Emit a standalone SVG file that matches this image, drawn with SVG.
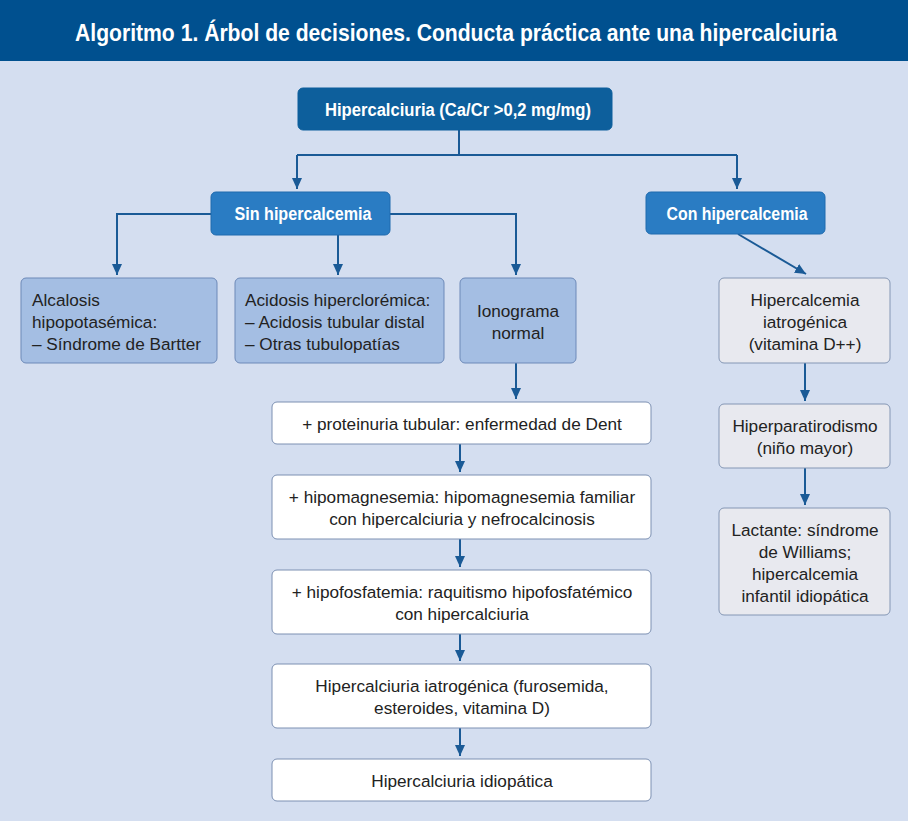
<svg xmlns="http://www.w3.org/2000/svg" width="908" height="821" viewBox="0 0 908 821">
<defs>
<marker id="ah" markerWidth="10" markerHeight="12" refX="11" refY="5" orient="auto" markerUnits="userSpaceOnUse">
<path d="M0,0 L11,5 L0,10 Z" fill="#1A5A96"/>
</marker>
<style>
.t{font-family:"Liberation Sans",Arial,sans-serif;font-size:17.2px;fill:#222}
.c{text-anchor:middle}
.b{font-family:"Liberation Sans",Arial,sans-serif;font-weight:bold;fill:#fff;text-anchor:middle;font-size:18px}
.ti{font-size:20px}
.dk{fill:#0D5F9C;stroke:#0D5F9C}
.md{fill:#2A7CC3;stroke:#1F6AAE}
.lb{fill:#A4BEE3;stroke:#6C89B8;stroke-width:1}
.wh{fill:#fff;stroke:#7C90B2;stroke-width:1}
.gr{fill:#E8E9EF;stroke:#8496B4;stroke-width:1}
.ln{fill:none;stroke:#1A5A96;stroke-width:2}
</style>
</defs>
<rect x="0" y="0" width="908" height="821" fill="#D4DEF0"/>
<rect x="0" y="0" width="908" height="61" fill="#00508F"/>
<text transform="translate(456,41) scale(1,1.2)" x="0" y="0" class="b ti" textLength="762" lengthAdjust="spacingAndGlyphs">Algoritmo 1.  Árbol de decisiones. Conducta práctica ante una hipercalciuria</text>

<g id="connectors">
<path class="ln" d="M459,130 V155 M297,155 H737"/>
<path class="ln" d="M297,155 V189" marker-end="url(#ah)"/>
<path class="ln" d="M737,155 V189" marker-end="url(#ah)"/>
<path class="ln" d="M211,214 H117 V275" marker-end="url(#ah)"/>
<path class="ln" d="M338,235 V275" marker-end="url(#ah)"/>
<path class="ln" d="M390,214 H516 V275" marker-end="url(#ah)"/>
<path class="ln" d="M516,363 V399" marker-end="url(#ah)"/>
<path class="ln" d="M460,444 V472" marker-end="url(#ah)"/>
<path class="ln" d="M460,539 V567" marker-end="url(#ah)"/>
<path class="ln" d="M460,634 V661" marker-end="url(#ah)"/>
<path class="ln" d="M460,728 V756" marker-end="url(#ah)"/>
<path class="ln" d="M738,234 L806,274" marker-end="url(#ah)"/>
<path class="ln" d="M805,363 V401" marker-end="url(#ah)"/>
<path class="ln" d="M805,468 V505" marker-end="url(#ah)"/>
</g>

<g id="n-root">
<rect class="dk" x="298" y="88" width="314" height="42" rx="5"/>
<text class="b" x="458" y="116" textLength="266" lengthAdjust="spacingAndGlyphs">Hipercalciuria (Ca/Cr &gt;0,2 mg/mg)</text>
</g>
<g id="n-sin">
<rect class="md" x="211" y="192" width="179" height="43" rx="5"/>
<text class="b" x="303" y="220" textLength="137" lengthAdjust="spacingAndGlyphs">Sin hipercalcemia</text>
</g>
<g id="n-con">
<rect class="md" x="646" y="192" width="179" height="42" rx="5"/>
<text class="b" x="737" y="220" textLength="141" lengthAdjust="spacingAndGlyphs">Con hipercalcemia</text>
</g>

<g id="n-alcalosis">
<rect class="lb" x="21" y="278" width="196" height="85" rx="5"/>
<text class="t" x="32" y="306">Alcalosis</text>
<text class="t" x="32" y="328">hipopotasémica:</text>
<text class="t" x="32" y="350">– Síndrome de Bartter</text>
</g>
<g id="n-acidosis">
<rect class="lb" x="235" y="278" width="209" height="85" rx="5"/>
<text class="t" x="245" y="306">Acidosis hiperclorémica:</text>
<text class="t" x="245" y="328">– Acidosis tubular distal</text>
<text class="t" x="245" y="350">– Otras tubulopatías</text>
</g>
<g id="n-ionograma">
<rect class="lb" x="460" y="278" width="116" height="85" rx="5"/>
<text class="t c" x="518" y="317">Ionograma</text>
<text class="t c" x="518" y="339">normal</text>
</g>

<g id="n-dent">
<rect class="wh" x="272" y="402" width="379" height="42" rx="5"/>
<text class="t c" x="462" y="430">+ proteinuria tubular: enfermedad de Dent</text>
</g>
<g id="n-hipomag">
<rect class="wh" x="272" y="475" width="379" height="64" rx="5"/>
<text class="t c" x="462" y="503">+ hipomagnesemia: hipomagnesemia familiar</text>
<text class="t c" x="462" y="525">con hipercalciuria y nefrocalcinosis</text>
</g>
<g id="n-hipofos">
<rect class="wh" x="272" y="570" width="379" height="64" rx="5"/>
<text class="t c" x="462" y="598">+ hipofosfatemia: raquitismo hipofosfatémico</text>
<text class="t c" x="462" y="620">con hipercalciuria</text>
</g>
<g id="n-iatro">
<rect class="wh" x="272" y="664" width="379" height="64" rx="5"/>
<text class="t c" x="462" y="692">Hipercalciuria iatrogénica (furosemida,</text>
<text class="t c" x="462" y="714">esteroides, vitamina D)</text>
</g>
<g id="n-idio">
<rect class="wh" x="272" y="759" width="379" height="42" rx="5"/>
<text class="t c" x="462" y="787">Hipercalciuria idiopática</text>
</g>

<g id="n-hcal-iatro">
<rect class="gr" x="719" y="278" width="171" height="85" rx="5"/>
<text class="t c" x="805" y="306">Hipercalcemia</text>
<text class="t c" x="805" y="328">iatrogénica</text>
<text class="t c" x="805" y="350">(vitamina D++)</text>
</g>
<g id="n-hiperpara">
<rect class="gr" x="719" y="404" width="171" height="64" rx="5"/>
<text class="t c" x="805" y="432">Hiperparatirodismo</text>
<text class="t c" x="805" y="454">(niño mayor)</text>
</g>
<g id="n-lactante">
<rect class="gr" x="719" y="508" width="171" height="107" rx="5"/>
<text class="t c" x="805" y="536">Lactante: síndrome</text>
<text class="t c" x="805" y="558">de Williams;</text>
<text class="t c" x="805" y="580">hipercalcemia</text>
<text class="t c" x="805" y="602">infantil idiopática</text>
</g>
</svg>
